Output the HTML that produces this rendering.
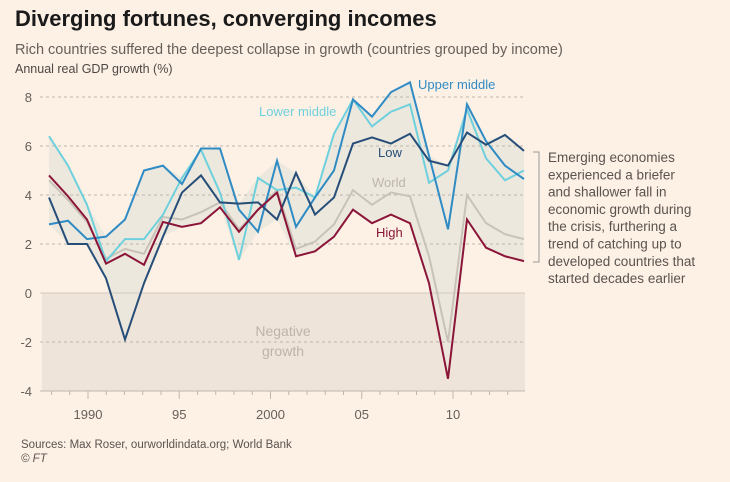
<!DOCTYPE html>
<html><head><meta charset="utf-8"><style>
body{margin:0;background:#fdf1e6;width:730px;height:482px;overflow:hidden;font-family:"Liberation Sans",sans-serif;}
svg{position:absolute;left:0;top:0}
</style></head><body>
<svg width="730" height="482">
<text x="15" y="26" font-size="22" font-weight="bold" fill="#1a1a1a">Diverging fortunes, converging incomes</text>
<text x="15" y="54" font-size="14.5" fill="#66605a">Rich countries suffered the deepest collapse in growth (countries grouped by income)</text>
<text x="15" y="73" font-size="12.5" fill="#4d4845">Annual real GDP growth (%)</text>
<g id="plot"></g>
<path d="M533 152 H539 V262 H533" fill="none" stroke="#999" stroke-width="1"/>
<text font-size="13.5" fill="#5a534e">
<tspan x="548" y="162">Emerging economies</tspan>
<tspan x="548" y="179.3">experienced a briefer</tspan>
<tspan x="548" y="196.6">and shallower fall in</tspan>
<tspan x="548" y="213.9">economic growth during</tspan>
<tspan x="548" y="231.2">the crisis, furthering a</tspan>
<tspan x="548" y="248.5">trend of catching up to</tspan>
<tspan x="548" y="265.8">developed countries that</tspan>
<tspan x="548" y="283.1">started decades earlier</tspan>
</text>
<text x="21" y="448" font-size="11.5" fill="#5a534e">Sources: Max Roser, ourworldindata.org; World Bank</text>
<text x="21" y="462" font-size="11.5" font-style="italic" fill="#5a534e">© FT</text>
</svg>
<script>
const years=[1988,1989,1990,1991,1992,1993,1994,1995,1996,1997,1998,1999,2000,2001,2002,2003,2004,2005,2006,2007,2008,2009,2010,2011,2012,2013];
const upperMiddle=[2.8,2.95,2.2,2.3,3.0,5.0,5.2,4.45,5.9,5.9,3.4,2.5,5.4,2.7,3.9,5.0,7.9,7.2,8.2,8.6,5.6,2.6,7.7,6.2,5.2,4.65];
const lowerMiddle=[6.4,5.2,3.6,1.3,2.2,2.2,3.2,4.7,5.85,4.1,1.35,4.7,4.2,4.3,3.9,6.5,7.9,6.8,7.4,7.7,4.5,5.0,7.5,5.5,4.6,5.0];
const low=[3.9,2.0,2.0,0.6,-1.9,0.4,2.3,4.1,4.8,3.7,3.65,3.7,3.0,4.9,3.2,3.9,6.1,6.35,6.1,6.5,5.4,5.2,6.55,6.05,6.45,5.8];
const high=[4.8,3.95,3.0,1.2,1.6,1.15,2.9,2.7,2.85,3.5,2.5,3.4,4.1,1.5,1.7,2.3,3.4,2.85,3.2,2.85,0.4,-3.5,3.0,1.85,1.5,1.3];
const world=[4.6,3.8,2.9,1.4,1.8,1.6,3.1,3.0,3.3,3.7,2.6,3.4,4.2,1.8,2.1,2.8,4.2,3.6,4.1,3.95,1.5,-2.0,4.0,2.85,2.4,2.2];
const yTicks=[8,6,4,2,0,-2,-4];
const xTickYears=[1990,1995,2000,2005,2010];
const xTickLabels=["1990","95","2000","05","10"];
(function(){
const NS="http://www.w3.org/2000/svg";
const X=y=>49+(y-1988)*19;
const Y=v=>293-24.5*v;
const XT=y=>88+(y-1990)*18.25;
const g=document.getElementById('plot');
function mk(t,a){const e=document.createElementNS(NS,t);for(const k in a)e.setAttribute(k,a[k]);g.appendChild(e);return e;}
let neg=mk('rect',{x:42,y:Y(0),width:483,height:Y(-4)-Y(0),fill:'#efe4d9'});


const all=[upperMiddle,lowerMiddle,low,high,world];
const upperEdge=years.map((y,i)=>X(y)+','+Y(Math.max(...all.map(s=>s[i])))).join(' ');
const lowerEdge=years.map((y,i)=>X(y)+','+Y(Math.min(...all.map(s=>s[i])))).reverse().join(' ');
let band=mk('polygon',{points:upperEdge+' '+lowerEdge,fill:'#ebe7dc','fill-opacity':0.9});


yTicks.forEach(v=>{
 let l=mk('line',{x1:40,x2:525,y1:Y(v),y2:Y(v),stroke:v===0?'#d2c9c0':'#bfb6ad','stroke-dasharray':(v===0||v===-4)?'none':'3,3','stroke-width':1});
 
 
 let t=mk('text',{x:32,y:Y(v)+5,'text-anchor':'end','font-size':13,fill:'#66605a'});
 t.textContent=String(v);
 
 
});
for(let i=-2;i<=23;i++){const yr=1990+i;const x=XT(yr);if(x<45||x>510)continue;
 let major=xTickYears.includes(yr);
 let l=mk('line',{x1:x,x2:x,y1:Y(-4),y2:Y(-4)+(major?8:4),stroke:'#bfb6ad'});
 
 }
xTickYears.forEach((yr,i)=>{let t=mk('text',{x:XT(yr),y:419,'text-anchor':'middle','font-size':13,fill:'#66605a'});
 t.textContent=xTickLabels[i];
 
 });
let ng=mk('text',{'font-size':14,fill:'#bdb3a8','text-anchor':'middle'});
ng.innerHTML='<tspan x="283" y="336">Negative</tspan><tspan x="283" y="356">growth</tspan>';


const series=[['world',world,'#c9c2b8'],['lower-middle',lowerMiddle,'#6fd0dd'],['upper-middle',upperMiddle,'#2f8bc4'],['low',low,'#264e79'],['high',high,'#8a1538']];
series.forEach(([n,s,c])=>{let p=mk('polyline',{points:years.map((y,i)=>X(y)+','+Y(s[i])).join(' '),fill:'none',stroke:c,'stroke-width':2,'stroke-linejoin':'miter'});
 
 });
const labels=[['Upper middle',418,89,'#2f8bc4'],['Lower middle',259,116,'#6fd0dd'],['Low',378,157,'#264e79'],['World',372,187,'#bdb5ab'],['High',376,237,'#8a1538']];
labels.forEach(([t,x,y,c])=>{let e=mk('text',{x:x,y:y,'font-size':13,fill:c});
 e.textContent=t;
 
 });
})();
</script>
</body></html>
